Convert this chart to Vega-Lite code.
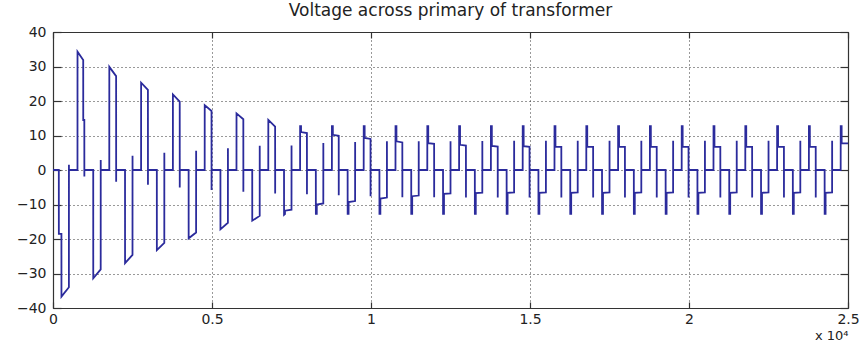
{
  "$schema": "https://vega.github.io/schema/vega-lite/v6.json",
  "width": 795,
  "height": 276,
  "autosize": "none",
  "padding": {"left": 53, "top": 32, "right": 19, "bottom": 35},
  "background": "white",
  "title": {"text": "Voltage across primary of transformer", "font": "DejaVu Sans", "fontSize": 17, "fontWeight": "normal", "color": "#222222", "anchor": "middle", "offset": 5},
  "config": {
    "view": {"stroke": null},
    "axis": {"domainColor": "#333333", "domainWidth": 1.2, "tickColor": "#333333", "tickWidth": 1.2, "labelFont": "DejaVu Sans", "labelFontSize": 14, "labelColor": "#222222", "titleFont": "DejaVu Sans", "titleFontWeight": "normal", "titleColor": "#222222", "gridColor": "#333333", "gridDash": [1, 3], "gridWidth": 1, "gridOpacity": 1}
  },
  "data": {"values": [
    {"t":0,"v":0},{"t":183,"v":0},{"t":184,"v":-18.5},{"t":265,"v":-18.5},{"t":266,"v":-36.7},{"t":500,"v":-34.0},{"t":501,"v":1.5},{"t":502,"v":0},
    {"t":770,"v":0},{"t":771,"v":34.3},{"t":950,"v":31.9},{"t":951,"v":14.5},{"t":985,"v":14.5},{"t":986,"v":-1.9},{"t":987,"v":0},
    {"t":1265,"v":0},{"t":1266,"v":-31.4},{"t":1500,"v":-28.8},{"t":1501,"v":2.9},{"t":1502,"v":0},
    {"t":1770,"v":0},{"t":1771,"v":29.9},{"t":1985,"v":27.2},{"t":1986,"v":-3.4},{"t":1987,"v":0},
    {"t":2265,"v":0},{"t":2266,"v":-27.0},{"t":2500,"v":-24.6},{"t":2501,"v":4.1},{"t":2502,"v":0},
    {"t":2770,"v":0},{"t":2771,"v":25.3},{"t":2985,"v":23.2},{"t":2986,"v":-4.3},{"t":2987,"v":0},
    {"t":3265,"v":0},{"t":3266,"v":-23.2},{"t":3500,"v":-21.1},{"t":3501,"v":5.0},{"t":3502,"v":0},
    {"t":3770,"v":0},{"t":3771,"v":21.9},{"t":3985,"v":19.8},{"t":3986,"v":-5.1},{"t":3987,"v":0},
    {"t":4265,"v":0},{"t":4266,"v":-19.8},{"t":4500,"v":-18.1},{"t":4501,"v":5.6},{"t":4502,"v":0},
    {"t":4770,"v":0},{"t":4771,"v":18.8},{"t":4985,"v":17.1},{"t":4986,"v":-5.8},{"t":4987,"v":0},
    {"t":5265,"v":0},{"t":5266,"v":-17.2},{"t":5500,"v":-15.3},{"t":5501,"v":6.3},{"t":5502,"v":0},
    {"t":5770,"v":0},{"t":5771,"v":16.4},{"t":5985,"v":14.7},{"t":5986,"v":-6.3},{"t":5987,"v":0},
    {"t":6265,"v":0},{"t":6266,"v":-14.7},{"t":6500,"v":-13.3},{"t":6501,"v":7.0},{"t":6502,"v":0},
    {"t":6770,"v":0},{"t":6771,"v":14.5},{"t":6985,"v":12.6},{"t":6986,"v":-6.8},{"t":6987,"v":0},
    {"t":7265,"v":0},{"t":7266,"v":-13.0},{"t":7295,"v":-12.8},{"t":7296,"v":-11.8},{"t":7500,"v":-11.5},{"t":7501,"v":7.1},{"t":7502,"v":0},
    {"t":7770,"v":0},{"t":7771,"v":12.7},{"t":7800,"v":12.7},{"t":7801,"v":11.0},{"t":7985,"v":10.7},{"t":7986,"v":-7.0},{"t":7987,"v":0},
    {"t":8265,"v":0},{"t":8266,"v":-12.7},{"t":8295,"v":-12.7},{"t":8296,"v":-10.0},{"t":8500,"v":-9.7},{"t":8501,"v":7.8},{"t":8502,"v":0},
    {"t":8770,"v":0},{"t":8771,"v":12.7},{"t":8800,"v":12.7},{"t":8801,"v":10.2},{"t":8985,"v":9.9},{"t":8986,"v":-7.3},{"t":8987,"v":0},
    {"t":9265,"v":0},{"t":9266,"v":-12.7},{"t":9295,"v":-12.7},{"t":9296,"v":-9.3},{"t":9500,"v":-9.0},{"t":9501,"v":8.1},{"t":9502,"v":0},
    {"t":9770,"v":0},{"t":9771,"v":12.7},{"t":9800,"v":12.7},{"t":9801,"v":9.3},{"t":9985,"v":9.0},{"t":9986,"v":-7.6},{"t":9987,"v":0},
    {"t":10265,"v":0},{"t":10266,"v":-12.7},{"t":10295,"v":-12.7},{"t":10296,"v":-8.3},{"t":10500,"v":-8.0},{"t":10501,"v":8.3},{"t":10502,"v":0},
    {"t":10770,"v":0},{"t":10771,"v":12.7},{"t":10800,"v":12.7},{"t":10801,"v":8.3},{"t":10985,"v":8.0},{"t":10986,"v":-7.9},{"t":10987,"v":0},
    {"t":11265,"v":0},{"t":11266,"v":-12.7},{"t":11295,"v":-12.7},{"t":11296,"v":-7.6},{"t":11500,"v":-7.4},{"t":11501,"v":8.3},{"t":11502,"v":0},
    {"t":11770,"v":0},{"t":11771,"v":12.7},{"t":11800,"v":12.7},{"t":11801,"v":7.8},{"t":11985,"v":7.6},{"t":11986,"v":-7.9},{"t":11987,"v":0},
    {"t":12265,"v":0},{"t":12266,"v":-12.7},{"t":12295,"v":-12.7},{"t":12296,"v":-6.9},{"t":12500,"v":-6.8},{"t":12501,"v":8.3},{"t":12502,"v":0},
    {"t":12770,"v":0},{"t":12771,"v":12.7},{"t":12800,"v":12.7},{"t":12801,"v":7.3},{"t":12985,"v":7.1},{"t":12986,"v":-8.0},{"t":12987,"v":0},
    {"t":13265,"v":0},{"t":13266,"v":-12.7},{"t":13295,"v":-12.7},{"t":13296,"v":-6.7},{"t":13500,"v":-6.6},{"t":13501,"v":8.4},{"t":13502,"v":0},
    {"t":13770,"v":0},{"t":13771,"v":12.7},{"t":13800,"v":12.7},{"t":13801,"v":7.0},{"t":13985,"v":6.8},{"t":13986,"v":-8.0},{"t":13987,"v":0},
    {"t":14265,"v":0},{"t":14266,"v":-12.7},{"t":14295,"v":-12.7},{"t":14296,"v":-6.6},{"t":14500,"v":-6.5},{"t":14501,"v":8.5},{"t":14502,"v":0},
    {"t":14770,"v":0},{"t":14771,"v":12.7},{"t":14800,"v":12.7},{"t":14801,"v":6.9},{"t":14985,"v":6.7},{"t":14986,"v":-8.0},{"t":14987,"v":0},
    {"t":15265,"v":0},{"t":15266,"v":-12.7},{"t":15295,"v":-12.7},{"t":15296,"v":-6.6},{"t":15500,"v":-6.5},{"t":15501,"v":8.5},{"t":15502,"v":0},
    {"t":15770,"v":0},{"t":15771,"v":12.7},{"t":15800,"v":12.7},{"t":15801,"v":6.8},{"t":15985,"v":6.7},{"t":15986,"v":-8.0},{"t":15987,"v":0},
    {"t":16265,"v":0},{"t":16266,"v":-12.7},{"t":16295,"v":-12.7},{"t":16296,"v":-6.6},{"t":16500,"v":-6.5},{"t":16501,"v":8.5},{"t":16502,"v":0},
    {"t":16770,"v":0},{"t":16771,"v":12.7},{"t":16800,"v":12.7},{"t":16801,"v":6.8},{"t":16985,"v":6.7},{"t":16986,"v":-8.0},{"t":16987,"v":0},
    {"t":17265,"v":0},{"t":17266,"v":-12.7},{"t":17295,"v":-12.7},{"t":17296,"v":-6.6},{"t":17500,"v":-6.5},{"t":17501,"v":8.5},{"t":17502,"v":0},
    {"t":17770,"v":0},{"t":17771,"v":12.7},{"t":17800,"v":12.7},{"t":17801,"v":6.8},{"t":17985,"v":6.7},{"t":17986,"v":-8.0},{"t":17987,"v":0},
    {"t":18265,"v":0},{"t":18266,"v":-12.7},{"t":18295,"v":-12.7},{"t":18296,"v":-6.6},{"t":18500,"v":-6.5},{"t":18501,"v":8.5},{"t":18502,"v":0},
    {"t":18770,"v":0},{"t":18771,"v":12.7},{"t":18800,"v":12.7},{"t":18801,"v":6.8},{"t":18985,"v":6.7},{"t":18986,"v":-8.0},{"t":18987,"v":0},
    {"t":19265,"v":0},{"t":19266,"v":-12.7},{"t":19295,"v":-12.7},{"t":19296,"v":-6.6},{"t":19500,"v":-6.5},{"t":19501,"v":8.5},{"t":19502,"v":0},
    {"t":19770,"v":0},{"t":19771,"v":12.7},{"t":19800,"v":12.7},{"t":19801,"v":6.8},{"t":19985,"v":6.7},{"t":19986,"v":-8.0},{"t":19987,"v":0},
    {"t":20265,"v":0},{"t":20266,"v":-12.7},{"t":20295,"v":-12.7},{"t":20296,"v":-6.6},{"t":20500,"v":-6.5},{"t":20501,"v":8.5},{"t":20502,"v":0},
    {"t":20770,"v":0},{"t":20771,"v":12.7},{"t":20800,"v":12.7},{"t":20801,"v":6.8},{"t":20985,"v":6.7},{"t":20986,"v":-8.0},{"t":20987,"v":0},
    {"t":21265,"v":0},{"t":21266,"v":-12.7},{"t":21295,"v":-12.7},{"t":21296,"v":-6.6},{"t":21500,"v":-6.5},{"t":21501,"v":8.5},{"t":21502,"v":0},
    {"t":21770,"v":0},{"t":21771,"v":12.7},{"t":21800,"v":12.7},{"t":21801,"v":6.8},{"t":21985,"v":6.7},{"t":21986,"v":-8.0},{"t":21987,"v":0},
    {"t":22265,"v":0},{"t":22266,"v":-12.7},{"t":22295,"v":-12.7},{"t":22296,"v":-6.6},{"t":22500,"v":-6.5},{"t":22501,"v":8.5},{"t":22502,"v":0},
    {"t":22770,"v":0},{"t":22771,"v":12.7},{"t":22800,"v":12.7},{"t":22801,"v":6.8},{"t":22985,"v":6.7},{"t":22986,"v":-8.0},{"t":22987,"v":0},
    {"t":23265,"v":0},{"t":23266,"v":-12.7},{"t":23295,"v":-12.7},{"t":23296,"v":-6.6},{"t":23500,"v":-6.5},{"t":23501,"v":8.5},{"t":23502,"v":0},
    {"t":23770,"v":0},{"t":23771,"v":12.7},{"t":23800,"v":12.7},{"t":23801,"v":6.8},{"t":23985,"v":6.7},{"t":23986,"v":-8.0},{"t":23987,"v":0},
    {"t":24265,"v":0},{"t":24266,"v":-12.7},{"t":24295,"v":-12.7},{"t":24296,"v":-6.6},{"t":24500,"v":-6.5},{"t":24501,"v":8.5},{"t":24502,"v":0},
    {"t":24770,"v":0},{"t":24771,"v":12.7},{"t":24800,"v":12.7},{"t":24801,"v":7.8},{"t":25000,"v":7.7}
  ]},
  "layer": [
    {
      "mark": {"type": "line", "color": "#2b2b9c", "strokeWidth": 1.8, "strokeJoin": "miter", "clip": true},
      "encoding": {
        "x": {"field": "t", "type": "quantitative", "scale": {"domain": [0, 25000], "nice": false, "zero": false},
          "axis": {"orient": "bottom", "values": [0, 5000, 10000, 15000, 20000, 25000], "labelExpr": "'' + datum.value / 10000", "grid": true, "tickSize": -6, "labelPadding": 10, "labelFlush": false, "title": "x 10⁴", "titleFontSize": 13, "titleAnchor": "end", "titleAlign": "right", "titlePadding": 3}},
        "y": {"field": "v", "type": "quantitative", "scale": {"domain": [-40, 40], "nice": false, "zero": false},
          "axis": {"orient": "left", "values": [-40, -30, -20, -10, 0, 10, 20, 30, 40], "grid": true, "tickSize": -8, "labelPadding": 15, "labelFlush": false, "title": null}}
      }
    },
    {
      "mark": {"type": "line", "opacity": 0},
      "encoding": {
        "x": {"field": "t", "type": "quantitative", "scale": {"domain": [0, 25000], "nice": false, "zero": false},
          "axis": {"orient": "top", "values": [0, 5000, 10000, 15000, 20000, 25000], "labels": false, "grid": false, "tickSize": -6, "title": null}},
        "y": {"field": "v", "type": "quantitative", "scale": {"domain": [-40, 40], "nice": false, "zero": false},
          "axis": {"orient": "right", "values": [-40, -30, -20, -10, 0, 10, 20, 30, 40], "labels": false, "grid": false, "tickSize": -8, "title": null}}
      }
    }
  ],
  "resolve": {"axis": {"x": "independent", "y": "independent"}}
}
